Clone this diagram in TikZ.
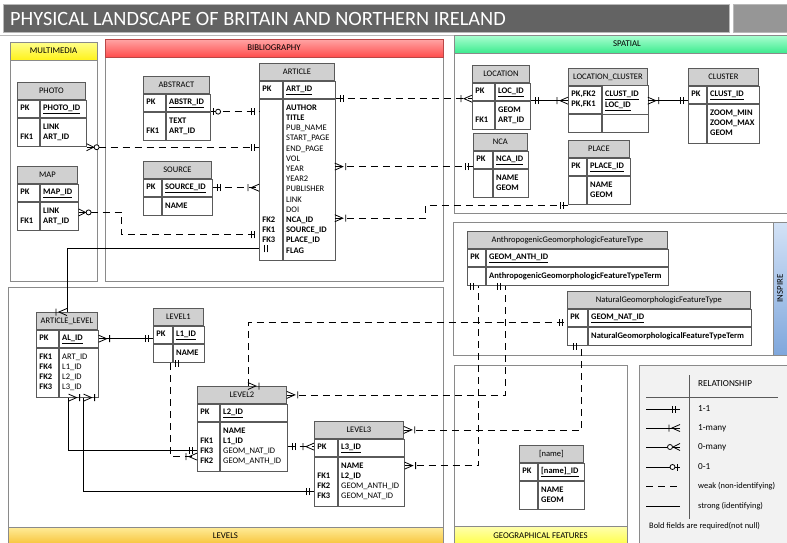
\documentclass[tikz,border=0pt]{standalone}
\usepackage{fontspec}
\setmainfont{Carlito}
\usetikzlibrary{positioning,calc,decorations.markings}

\definecolor{titlegray}{HTML}{636363}
\definecolor{titlelight}{HTML}{969696}
\definecolor{hdgray}{HTML}{D0D0D0}
\definecolor{tblline}{HTML}{5A5A5A}
\definecolor{panelline}{HTML}{8A8A8A}
\definecolor{legfill}{HTML}{F2F2F2}
\definecolor{mmtop}{HTML}{FFFF8C}\definecolor{mmbot}{HTML}{FFF21A}
\definecolor{bibtop}{HTML}{FFA6A6}\definecolor{bibbot}{HTML}{FF4D4D}
\definecolor{spattop}{HTML}{ADFFD2}\definecolor{spatbot}{HTML}{3DEB8F}
\definecolor{levtop}{HTML}{FFEC99}\definecolor{levbot}{HTML}{F7C236}
\definecolor{geotop}{HTML}{FFFFB0}\definecolor{geobot}{HTML}{FFFF40}
\definecolor{insptop}{HTML}{D3E2F6}\definecolor{inspbot}{HTML}{7FA7DC}

\newcommand\pkf[1]{\textbf{\underline{#1}}}
% table: name, corner, width, key width, title, pk keys, pk fields, keys, fields
\newcommand\erbox[9]{%
  \pgfmathsetmacro\keyw{#4-6}%
  \pgfmathsetmacro\fldw{#3-#4-6}%
  \node[enthead, minimum width=#3pt, anchor=north west] (#1) at (#2) {#5};
  \node[entcell, keycell, pkcell, text width=\keyw pt, below right=0pt and 0pt of #1.south west] (#1-pkk) {#6};
  \node[entcell, pkcell, text width=\fldw pt, right=0pt of #1-pkk] (#1-pk) {#7};
  \node[entcell, keycell, bodycell, text width=\keyw pt, below right=0pt and 0pt of #1-pkk.south west] (#1-bk) {#8};
  \node[entcell, bodycell, text width=\fldw pt, right=0pt of #1-bk] (#1-bd) {#9};
}

\begin{document}
\begin{tikzpicture}[x=1pt,y=-1pt,
    panel/.style={draw=panelline,line width=0.8pt},
    panelhead/.style={draw=panelline,line width=0.8pt,font=\fontsize{8.8}{10}\selectfont},
    enthead/.style={draw=tblline,line width=0.8pt,fill=hdgray,minimum height=17pt,inner sep=0pt,font=\fontsize{8.5}{10.2}\selectfont},
    entcell/.style={draw=tblline,line width=0.8pt,fill=white,inner xsep=3pt,align=left,
      font=\fontsize{8.5}{10.2}\selectfont,execute at begin node=\strut,execute at end node=\strut},
    keycell/.style={font=\fontsize{8.5}{10.2}\selectfont\bfseries},
    pkcell/.style={inner ysep=3.4pt},
    bodycell/.style={inner ysep=4.2pt},
    strong/.style={line width=0.8pt},
    weak/.style={line width=0.8pt,dash pattern=on 7pt off 5pt},
    legtxt/.style={anchor=west,inner sep=0pt,font=\fontsize{9.2}{11}\selectfont},
    legsmall/.style={legtxt,font=\fontsize{8.4}{10}\selectfont},
    pics/oneone/.style={code={\draw[solid] (-5pt,-3.5pt)--(-5pt,3.5pt) (-8pt,-3.5pt)--(-8pt,3.5pt);}},
    pics/onemany/.style={code={\draw[solid] (0,3.5pt)--(-8pt,0)--(0,-3.5pt) (-11pt,-3.5pt)--(-11pt,3.5pt);}},
    pics/zeromany/.style={code={\draw[solid] (0,3.5pt)--(-7pt,0)--(0,-3.5pt);
      \draw[solid,fill=white] (-10pt,0) circle (2.5pt);}},
    pics/zeroone/.style={code={\draw[solid] (-3pt,-3.5pt)--(-3pt,3.5pt);
      \draw[solid,fill=white] (-7.5pt,0) circle (2.5pt);}},
    endtip/.style={postaction={decorate,decoration={markings,mark=at position 1 with {\pic{#1};}}}},
    starttip/.style={postaction={decorate,decoration={markings,mark=at position 0 with {\pic[xscale=-1]{#1};}}}}]
  \useasboundingbox (0,0) rectangle (787,542);
  \clip (0,0) rectangle (787,542);

  % title
  \draw[draw=gray!55,fill=titlegray] (3,4) rectangle (729,32);
  \draw[draw=gray!55,fill=titlelight] (733,4) rectangle (800,32);
  \draw[gray!55,line width=1pt] (0,35) -- (787,35);
  \node[anchor=west,text=white,inner sep=0pt,font=\fontsize{20.3}{23}\selectfont] (title) at (10,18.5)
    {PHYSICAL LANDSCAPE OF BRITAIN AND NORTHERN IRELAND};

  % panels
  \draw[panel] (10,42) rectangle (97,281);
  \draw[panelhead,top color=mmtop,bottom color=mmbot] (10,42) rectangle node (mmhead) {MULTIMEDIA} (97,60);
  \draw[panel] (105,39) rectangle (443,281);
  \draw[panelhead,draw=red!45!gray,top color=bibtop,bottom color=bibbot] (105,39) rectangle node (bibhead) {BIBLIOGRAPHY} (443,57);
  \draw[panel] (454,35) rectangle (800,213);
  \draw[panelhead,top color=spattop,bottom color=spatbot] (454,35) rectangle node (spathead) {SPATIAL} (800,53);
  \draw[panel] (453,222) rectangle (800,355);
  \draw[panelhead,top color=insptop,bottom color=inspbot] (773,222) rectangle node[rotate=90] (insphead) {INSPIRE} (787,355);
  \draw[panel] (8,287) rectangle (443,560);
  \draw[panelhead,top color=levtop,bottom color=levbot] (8,527) rectangle node (levhead) {LEVELS} (443,545);
  \draw[panel] (454,365) rectangle (627,560);
  \draw[panelhead,top color=geotop,bottom color=geobot] (454,526) rectangle node (geohead) {GEOGRAPHICAL FEATURES} (627,546);
  \draw[panel,fill=legfill] (639,365) rectangle (800,560);

  % tables
  \erbox{photo}{17,82}{68}{22}{PHOTO}{PK}{\pkf{PHOTO\_ID}}{~\\FK1}{\textbf{LINK}\\\textbf{ART\_ID}}
  \erbox{map}{17,166}{60}{22}{MAP}{PK}{\pkf{MAP\_ID}}{~\\FK1}{\textbf{LINK}\\\textbf{ART\_ID}}
  \erbox{abstract}{143,76}{66}{22}{ABSTRACT}{PK}{\pkf{ABSTR\_ID}}{~\\FK1}{\textbf{TEXT}\\\textbf{ART\_ID}}
  \erbox{source}{143,161}{68}{18}{SOURCE}{PK}{\pkf{SOURCE\_ID}}{~}{\textbf{NAME}}
  \erbox{article}{259,63}{75}{23}{ARTICLE}{PK}{\pkf{ART\_ID}}
    {~\\~\\~\\~\\~\\~\\~\\~\\~\\~\\~\\FK2\\FK1\\FK3\\~}
    {\textbf{AUTHOR}\\\textbf{TITLE}\\PUB\_NAME\\START\_PAGE\\END\_PAGE\\VOL\\YEAR\\YEAR2\\PUBLISHER\\LINK\\DOI\\
     \textbf{NCA\_ID}\\\textbf{SOURCE\_ID}\\\textbf{PLACE\_ID}\\\textbf{FLAG}}
  \erbox{location}{472,65}{57}{22}{LOCATION}{PK}{\pkf{LOC\_ID}}{~\\FK1}{\textbf{GEOM}\\\textbf{ART\_ID}}
  \erbox{loccl}{568,68}{79}{33}{LOCATION\_CLUSTER}{PK,FK2\\PK,FK1}{\pkf{CLUST\_ID}\\\pkf{LOC\_ID}}{~}{~}
  \erbox{cluster}{688,68}{70}{18}{CLUSTER}{PK}{\pkf{CLUST\_ID}}{~\\~\\~}{\textbf{ZOOM\_MIN}\\\textbf{ZOOM\_MAX}\\\textbf{GEOM}}
  \erbox{nca}{473,133}{54}{19}{NCA}{PK}{\pkf{NCA\_ID}}{~\\~}{\textbf{NAME}\\\textbf{GEOM}}
  \erbox{place}{568,140}{61}{18}{PLACE}{PK}{\pkf{PLACE\_ID}}{~\\~}{\textbf{NAME}\\\textbf{GEOM}}
  \erbox{agft}{467,231}{200}{18}{AnthropogenicGeomorphologicFeatureType}{PK}{\pkf{GEOM\_ANTH\_ID}}{~}
    {\textbf{AnthropogenicGeomorphologicFeatureTypeTerm}}
  \erbox{ngft}{567,291}{183}{20}{NaturalGeomorphologicFeatureType}{PK}{\pkf{GEOM\_NAT\_ID}}{~}
    {\textbf{NaturalGeomorphologicalFeatureTypeTerm}}
  \erbox{artlevel}{36,312}{61}{22}{ARTICLE\_LEVEL}{PK}{\pkf{AL\_ID}}{FK1\\FK4\\FK2\\FK3}{ART\_ID\\L1\_ID\\L2\_ID\\L3\_ID}
  \erbox{level1}{153,308}{50}{19}{LEVEL1}{PK}{\pkf{L1\_ID}}{~}{\textbf{NAME}}
  \erbox{level2}{197,386}{89}{22}{LEVEL2}{PK}{\pkf{L2\_ID}}{~\\FK1\\FK3\\FK2}
    {\textbf{NAME}\\\textbf{L1\_ID}\\GEOM\_NAT\_ID\\GEOM\_ANTH\_ID}
  \erbox{level3}{314,421}{89}{23}{LEVEL3}{PK}{\pkf{L3\_ID}}{~\\FK1\\FK2\\FK3}
    {\textbf{NAME}\\\textbf{L2\_ID}\\GEOM\_ANTH\_ID\\GEOM\_NAT\_ID}
  \erbox{namebox}{519,445}{64}{18}{[name]}{PK}{\pkf{[name]\_ID}}{~\\~}{\textbf{NAME}\\\textbf{GEOM}}

  % relationships
  \coordinate (ncaport) at ([yshift=2pt]nca-pkk.south west);
  \coordinate (placeport) at (place-bk.south west);
  \coordinate (ngftport) at ([yshift=4pt]ngft-pkk.south west);
  \draw[weak,starttip=zeroone,endtip=oneone] (abstract-pk.south east) -- (abstract-pk.south east -| article.west);
  \draw[weak,starttip=zeromany,endtip=oneone] (photo-bd.south east) -- (photo-bd.south east -| article.west);
  \draw[weak,starttip=zeromany,endtip=oneone] ([yshift=4pt]map-bd.east) -- ++(43,0) |- ([yshift=26pt]article-bk.south west);
  \draw[weak,starttip=oneone,endtip=onemany] (source-pk.east) -- (source-pk.east -| article.west);
  \draw[strong,starttip=oneone,endtip=onemany] ([yshift=12pt]article-bk.south west) -| (artlevel.north);
  \draw[weak,starttip=oneone,endtip=onemany] (article-pk.south east) -- (article-pk.south east -| location.west);
  \draw[weak,starttip=onemany,endtip=oneone] (ncaport -| article.east) -- (ncaport);
  \draw[weak,starttip=onemany,endtip=oneone] ($(placeport -| article.east)+(0,-13pt)$) -- ++(91,0) |- (placeport);
  \draw[strong,starttip=oneone,endtip=onemany] (location-pk.south east) -- (location-pk.south east -| loccl.west);
  \draw[strong,starttip=onemany,endtip=oneone] (location-pk.south -| loccl.east) -- (location-pk.south -| cluster.west);
  \draw[strong,starttip=onemany,endtip=oneone] (artlevel-pk.east) -- (artlevel-pk.east -| level1.west);
  \draw[weak,starttip=oneone,endtip=onemany] ([xshift=-2pt]level1-bd.south west) |- ([yshift=-10pt]level2-bk.west);
  \draw[strong,starttip=onemany,endtip=oneone] ([xshift=-30pt]artlevel-bd.south east) |- ([yshift=-4pt]level2-bk.west);
  \draw[strong,starttip=onemany,endtip=oneone] ([xshift=-15pt]artlevel-bd.south east) |- ([yshift=-10pt]level3-bk.west);
  \draw[weak,starttip=oneone,endtip=onemany] (level2-bd.east) -- (level2-bd.east -| level3.west);
  \draw[weak,starttip=onemany,endtip=oneone] ([xshift=6pt]level2.north) |- (ngftport);
  \draw[weak,starttip=onemany,endtip=oneone] (level2.east) -| ([xshift=20pt]agft-bd.south west);
  \draw[weak,starttip=onemany,endtip=oneone] (level3.east) -| ([xshift=-6pt]ngft-bd.south west);
  \draw[weak,starttip=onemany,endtip=oneone] ([yshift=-9pt]level3-bd.north east) -| ([xshift=-7pt]agft-bk.south east);

  % legend
  \draw[tblline,line width=0.8pt] (646,397) -- (778,397) (689,375) -- (689,519);
  \node[legtxt] (legtitle) at (698,384) {RELATIONSHIP};
  \node[legtxt] (leg-a) at (698,409) {1-1};
  \node[legtxt] (leg-b) at (698,428) {1-many};
  \node[legtxt] (leg-c) at (698,447) {0-many};
  \node[legtxt] (leg-d) at (698,467) {0-1};
  \node[legsmall] (leg-e) at (698,486) {weak (non-identifying)};
  \node[legsmall] (leg-f) at (698,506) {strong (identifying)};
  \node[legsmall] (legnote) at (649,526) {Bold fields are required(not null)};
  \draw[strong,endtip=oneone] ([xshift=-52pt]leg-a.west) -- ([xshift=-18pt]leg-a.west);
  \draw[strong,endtip=onemany] ([xshift=-52pt]leg-b.west) -- ([xshift=-18pt]leg-b.west);
  \draw[strong,endtip=zeromany] ([xshift=-52pt]leg-c.west) -- ([xshift=-18pt]leg-c.west);
  \draw[strong,endtip=zeroone] ([xshift=-52pt]leg-d.west) -- ([xshift=-18pt]leg-d.west);
  \draw[weak] ([xshift=-52pt]leg-e.west) -- ([xshift=-18pt]leg-e.west);
  \draw[strong] ([xshift=-52pt]leg-f.west) -- ([xshift=-18pt]leg-f.west);
\end{tikzpicture}
\end{document}
